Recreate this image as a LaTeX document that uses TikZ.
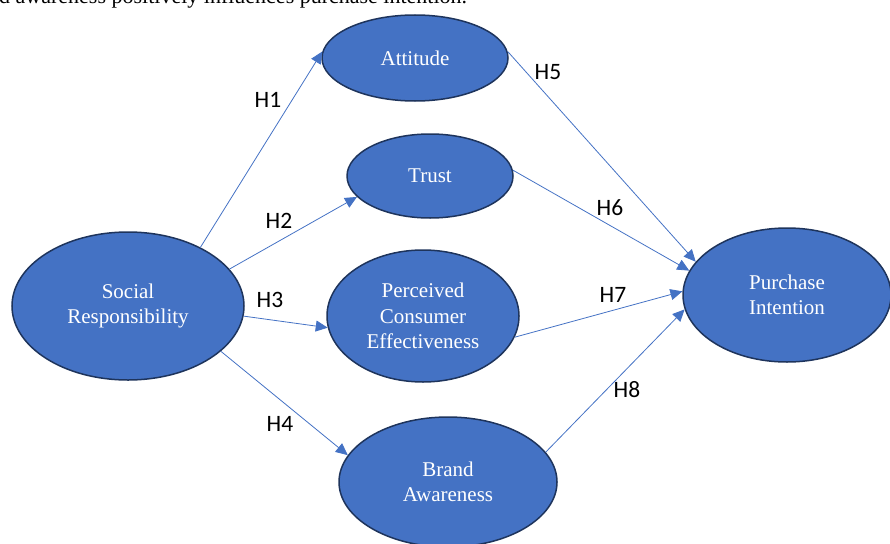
\documentclass[tikz,border=0pt]{standalone}
\usepackage{fontspec}
\setmainfont{Liberation Serif}
\newfontfamily\labelfont{Carlito}
\usetikzlibrary{shapes.geometric, arrows.meta, positioning}
\definecolor{fillblue}{RGB}{68,114,196}
\definecolor{edgeblue}{RGB}{30,52,92}
\definecolor{lineblue}{RGB}{68,114,196}

\begin{document}
\begin{tikzpicture}[x=1pt, y=-1pt]
\tikzstyle{construct} = [ellipse, draw=edgeblue, line width=1.5pt, fill=fillblue,
    text=white, align=center, inner sep=0pt, font=\fontsize{21}{25.5}\selectfont]
\tikzstyle{hyp} = [inner sep=0pt, font=\labelfont\fontsize{23.5}{23.5}\selectfont]
\tikzstyle{line} = [draw=lineblue, line width=0.8pt, -{Triangle[length=12pt, width=11pt]}]
    \useasboundingbox (0,0) rectangle (890,543);
    \clip (0,0) rectangle (890,543);
    % Place nodes
    \node [anchor=base west, inner sep=0pt, font=\fontsize{22}{22}\selectfont] (caption) at (-1,4)
        {d awareness positively influences purchase intention.};
    \node [construct, minimum width=232pt, minimum height=148pt] (social) at (128,306) {Social\\Responsibility};
    \node [construct, minimum width=186pt, minimum height=86pt] (attitude) at (415,58) {Attitude};
    \node [construct, minimum width=166pt, minimum height=84pt] (trust) at (430,176) {Trust};
    \node [construct, minimum width=192pt, minimum height=132pt] (effect) at (423,316) {Perceived\\Consumer\\Effectiveness};
    \node [construct, minimum width=218pt, minimum height=130pt] (brand) at (448,482) {Brand\\Awareness};
    \node [construct, minimum width=208pt, minimum height=134pt] (purchase) at (787,295) {Purchase\\Intention};

    \node [hyp] (h1) at (268,100) {H1};
    \node [hyp] (h2) at (279,221) {H2};
    \node [hyp] (h3) at (270,300) {H3};
    \node [hyp] (h4) at (280,424) {H4};
    \node [hyp] (h5) at (548,72) {H5};
    \node [hyp] (h6) at (610,208) {H6};
    \node [hyp] (h7) at (613,295) {H7};
    \node [hyp] (h8) at (627,390) {H8};

%paths
    \path [line] (social.39) -- (attitude.176);
    \path [line] (social.20) -- (trust.196);
    \path [line] (social.-5) -- (effect.187);
    \path [line] (social.-26) -- (brand.165);
    \path [line] (attitude.4) -- (purchase.160);
    \path [line] (trust.4) -- (purchase.166);
    \path [line] (effect.-13) -- (purchase.178);
    \path [line] (brand.17) -- (purchase.188);

\end{tikzpicture}
\end{document}
